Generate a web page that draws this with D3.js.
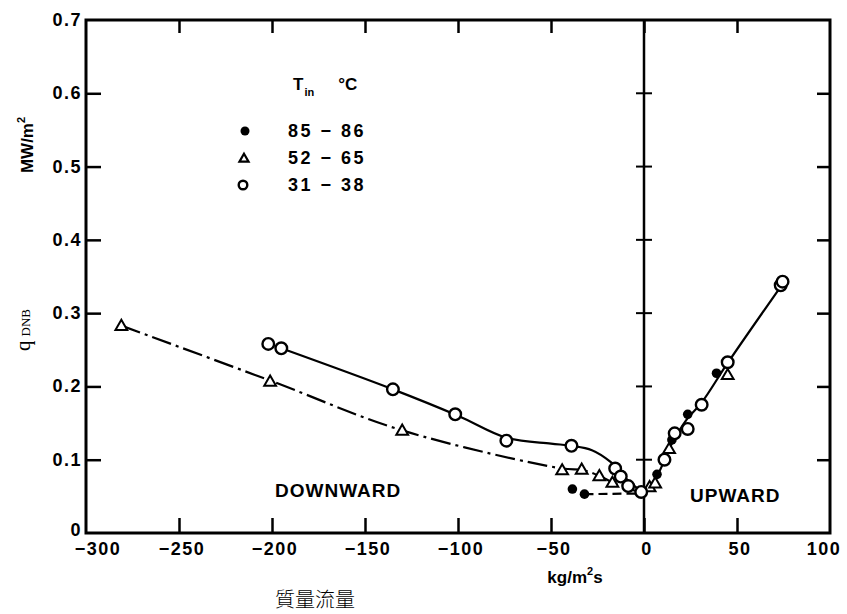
<!DOCTYPE html>
<html>
<head>
<meta charset="utf-8">
<script src="https://cdn.jsdelivr.net/npm/d3@7"></script>
<style>
  html, body { margin: 0; padding: 0; background: #fff; }
  svg { display: block; }
  .bold { font-family: "Liberation Sans", Arial, sans-serif; font-weight: bold; fill: #000; }
</style>
</head>
<body>
<svg id="chart" width="847" height="614"></svg>
<script>
// Mass flux axis (kg/m^2 s) and heat flux axis (MW/m^2)
const xTickValues = [-300, -250, -200, -150, -100, -50, 0, 50, 100];
const xTickLabels = ["\u2212300", "\u2212250", "\u2212200", "\u2212150", "\u2212100", "\u221250", "0", "50", "100"];
const yTickValues = [0, 0.1, 0.2, 0.3, 0.4, 0.5, 0.6, 0.7];
const yTickLabels = ["0", "0.1", "0.2", "0.3", "0.4", "0.5", "0.6", "0.7"];

// Inlet temperature groups
const seriesNames = ["85 \u2212 86", "52 \u2212 65", "31 \u2212 38"];

// T_in 85-86 °C (filled circles)
const g85 = [-38.5, -32, 7, 15, 23.5, 39];
const q85 = [0.060, 0.053, 0.080, 0.127, 0.162, 0.218];

// T_in 52-65 °C (triangles)
const g52 = [-281, -201, -130, -44, -33.5, -24, -17, 3, 6, 13.5, 45];
const q52 = [0.283, 0.207, 0.140, 0.086, 0.087, 0.078, 0.069, 0.063, 0.068, 0.115, 0.216];

// T_in 31-38 °C (open circles)
const g31 = [-202, -195, -135, -101.5, -74, -39, -15.5, -12.5, -8.5, -1.5, 11, 16.5, 23.5, 31, 45, 73.5, 74.5];
const q31 = [0.258, 0.252, 0.196, 0.162, 0.126, 0.119, 0.088, 0.077, 0.064, 0.056, 0.100, 0.136, 0.142, 0.175, 0.233, 0.338, 0.343];

// Hand-fitted trend curves
const fitDownOpenG = [-195, -135, -100, -74, -50, -39, -28, -18, -10, -4, 0];
const fitDownOpenQ = [0.252, 0.196, 0.160, 0.130, 0.122, 0.119, 0.113, 0.097, 0.075, 0.062, 0.056];
const fitDownTriG = [-281, -201, -130, -44, -33, -24, -17, -8, 0];
const fitDownTriQ = [0.283, 0.208, 0.140, 0.088, 0.086, 0.078, 0.069, 0.060, 0.055];
const fitDownFilledG = [-32, 0];
const fitDownFilledQ = [0.053, 0.054];
const fitUpG = [0, 7, 15, 23, 31, 45, 74];
const fitUpQ = [0.055, 0.078, 0.122, 0.155, 0.178, 0.232, 0.338];

(function draw() {
  const zip = (a, b) => a.map((v, i) => [v, b[i]]);

  const svg = d3.select("#chart");
  const pLeft = 86, pRight = 830, pTop = 20, pBottom = 533;

  const x = d3.scaleLinear().domain([-300, 100]).range([pLeft, pRight]);
  const y = d3.scaleLinear().domain([0, 0.7]).range([pBottom, pTop]);

  const ink = "#000";

  // Frame
  svg.append("rect")
    .attr("x", pLeft).attr("y", pTop)
    .attr("width", pRight - pLeft).attr("height", pBottom - pTop)
    .attr("fill", "none").attr("stroke", ink).attr("stroke-width", 3);

  // Inward ticks on all four sides
  const styleTicks = g => g.call(s => s.select(".domain").remove())
    .call(s => s.selectAll("line").attr("stroke", ink).attr("stroke-width", 2.5));
  svg.append("g").attr("transform", `translate(0,${pBottom})`)
    .call(d3.axisTop(x).tickValues(xTickValues.slice(1, -1)).tickSize(15).tickFormat(""))
    .call(styleTicks);
  svg.append("g").attr("transform", `translate(0,${pTop})`)
    .call(d3.axisBottom(x).tickValues(xTickValues.slice(1, -1)).tickSize(13).tickFormat(""))
    .call(styleTicks);
  svg.append("g").attr("transform", `translate(${pLeft},0)`)
    .call(d3.axisRight(y).tickValues(yTickValues.slice(1, -1)).tickSize(15).tickFormat(""))
    .call(styleTicks);
  svg.append("g").attr("transform", `translate(${pRight},0)`)
    .call(d3.axisLeft(y).tickValues(yTickValues.slice(1, -1)).tickSize(13).tickFormat(""))
    .call(styleTicks);

  // Zero-flux divider with cross ticks
  svg.append("line")
    .attr("x1", x(0)).attr("x2", x(0)).attr("y1", pTop).attr("y2", pBottom)
    .attr("stroke", ink).attr("stroke-width", 2.5);
  svg.append("g").selectAll("line").data(yTickValues.slice(1, -1)).join("line")
    .attr("x1", x(0) - 8).attr("x2", x(0) + 8)
    .attr("y1", d => y(d)).attr("y2", d => y(d))
    .attr("stroke", ink).attr("stroke-width", 2);

  // Tick labels
  const xLabelShift = i => (i === 0 ? 12 : i === xTickValues.length - 1 ? -6 : 3);
  svg.append("g").selectAll("text").data(xTickValues).join("text")
    .attr("class", "bold")
    .attr("x", (d, i) => x(d) + xLabelShift(i))
    .attr("y", 555)
    .attr("text-anchor", "middle")
    .attr("font-size", 18)
    .attr("letter-spacing", 1.5)
    .text((d, i) => xTickLabels[i]);
  svg.append("g").selectAll("text").data(yTickValues).join("text")
    .attr("class", "bold")
    .attr("x", pLeft - 4)
    .attr("y", d => y(d) + (d === 0 ? 3 : 6))
    .attr("text-anchor", "end")
    .attr("font-size", 18)
    .attr("letter-spacing", 1.5)
    .text((d, i) => yTickLabels[i]);

  // Axis titles
  const yTitle = svg.append("text").attr("class", "bold")
    .attr("transform", "translate(33,145) rotate(-90)")
    .attr("text-anchor", "middle").attr("font-size", 17);
  yTitle.append("tspan").text("MW/m");
  yTitle.append("tspan").attr("dy", -8).attr("font-size", 11).text("2");

  const qTitle = svg.append("text")
    .attr("transform", "translate(30,330) rotate(-90)")
    .attr("text-anchor", "middle")
    .attr("font-family", "'Liberation Serif', 'DejaVu Serif', serif")
    .attr("fill", ink);
  qTitle.append("tspan").attr("font-size", 21).text("q");
  qTitle.append("tspan").attr("font-size", 13).attr("dx", 4).text("DNB");

  const xTitle = svg.append("text").attr("class", "bold")
    .attr("x", 575).attr("y", 583).attr("text-anchor", "middle").attr("font-size", 17);
  xTitle.append("tspan").text("kg/m");
  xTitle.append("tspan").attr("dy", -8).attr("font-size", 11).text("2");
  xTitle.append("tspan").attr("dy", 8).text("s");

  svg.append("text")
    .attr("x", 315).attr("y", 607).attr("text-anchor", "middle")
    .attr("font-family", "'Noto Sans CJK TC', 'Noto Sans CJK SC', sans-serif")
    .attr("font-weight", 300)
    .attr("font-size", 20).attr("fill", ink)
    .text("質量流量");

  // Region labels
  svg.append("text").attr("class", "bold")
    .attr("x", 275).attr("y", 497).attr("font-size", 19).attr("letter-spacing", 1)
    .text("DOWNWARD");
  svg.append("text").attr("class", "bold")
    .attr("x", 690).attr("y", 502).attr("font-size", 19).attr("letter-spacing", 1)
    .text("UPWARD");

  // Trend curves
  const smooth = d3.line().x(d => x(d[0])).y(d => y(d[1])).curve(d3.curveCatmullRom.alpha(0.5));
  svg.append("path").datum(zip(fitDownOpenG, fitDownOpenQ))
    .attr("d", smooth).attr("fill", "none").attr("stroke", ink).attr("stroke-width", 2.2);
  svg.append("path").datum(zip(fitDownTriG, fitDownTriQ))
    .attr("d", smooth).attr("fill", "none").attr("stroke", ink).attr("stroke-width", 2.2)
    .attr("stroke-dasharray", "20 5 3 5");
  svg.append("path").datum(zip(fitDownFilledG, fitDownFilledQ))
    .attr("d", smooth).attr("fill", "none").attr("stroke", ink).attr("stroke-width", 2.2)
    .attr("stroke-dasharray", "9 5");
  svg.append("path").datum(zip(fitUpG, fitUpQ))
    .attr("d", smooth).attr("fill", "none").attr("stroke", ink).attr("stroke-width", 2.2);

  // Markers
  const tri = d3.symbol().type(d3.symbolTriangle).size(60);
  svg.append("g").selectAll("path").data(zip(g52, q52)).join("path")
    .attr("d", tri)
    .attr("transform", d => `translate(${x(d[0])},${y(d[1]) + 1})`)
    .attr("fill", "#fff").attr("stroke", ink).attr("stroke-width", 2);
  svg.append("g").selectAll("circle").data(zip(g85, q85)).join("circle")
    .attr("cx", d => x(d[0])).attr("cy", d => y(d[1])).attr("r", 4.8)
    .attr("fill", ink);
  svg.append("g").selectAll("circle").data(zip(g31, q31)).join("circle")
    .attr("cx", d => x(d[0])).attr("cy", d => y(d[1])).attr("r", 5.8)
    .attr("fill", "#fff").attr("stroke", ink).attr("stroke-width", 2.4);

  // Legend
  const legend = svg.append("g");
  const lt = legend.append("text").attr("class", "bold").attr("x", 293).attr("y", 90).attr("font-size", 17);
  lt.append("tspan").text("T");
  lt.append("tspan").attr("dy", 6).attr("dx", 1).attr("font-size", 11).text("in");
  lt.append("tspan").attr("dy", -6).attr("dx", 24).text("\u00b0C");

  const legY = [131, 158, 185];
  legend.append("circle").attr("cx", 245).attr("cy", legY[0]).attr("r", 4.5).attr("fill", ink);
  legend.append("path").attr("d", d3.symbol().type(d3.symbolTriangle).size(36))
    .attr("transform", `translate(244,${legY[1] + 1})`)
    .attr("fill", "#fff").attr("stroke", ink).attr("stroke-width", 2.2);
  legend.append("circle").attr("cx", 243).attr("cy", legY[2]).attr("r", 4.3)
    .attr("fill", "#fff").attr("stroke", ink).attr("stroke-width", 2.4);
  legend.selectAll("text.entry").data(seriesNames).join("text")
    .attr("class", "bold entry")
    .attr("x", 288).attr("y", (d, i) => legY[i] + 6)
    .attr("font-size", 18).attr("letter-spacing", 2.5)
    .text(d => d);
})();
</script>
</body>
</html>
